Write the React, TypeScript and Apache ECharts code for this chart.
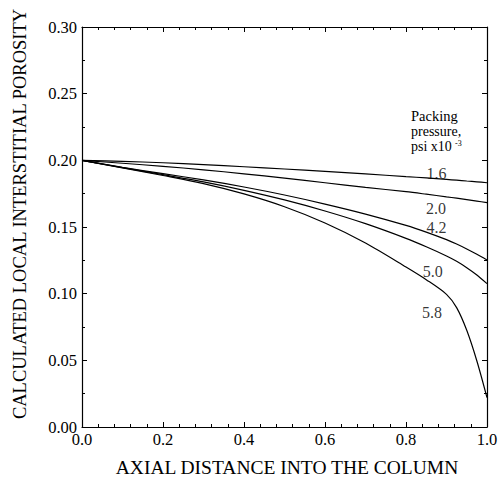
import React, { useEffect, useRef } from "react";
import * as echarts from "echarts";

const xPositions = [0, 0.1, 0.2, 0.3, 0.4, 0.5, 0.6, 0.7, 0.8, 0.85, 0.9, 0.925, 0.95, 0.975, 1.0];
const p16 = [0.2, 0.1992, 0.1982, 0.1968, 0.1952, 0.1935, 0.1917, 0.1898, 0.1878, 0.1868, 0.1857, 0.1851, 0.1845, 0.1839, 0.1832];
const p20 = [0.2, 0.1978, 0.1955, 0.1929, 0.1899, 0.1866, 0.1832, 0.1797, 0.1765, 0.1746, 0.1726, 0.1716, 0.1705, 0.1694, 0.1683];
const p42 = [0.2, 0.1947, 0.19, 0.1853, 0.18, 0.174, 0.1672, 0.1597, 0.1512, 0.1462, 0.1405, 0.1372, 0.1335, 0.1295, 0.1252];
const p50 = [0.2, 0.1945, 0.1893, 0.1838, 0.1775, 0.1703, 0.162, 0.1525, 0.1415, 0.1352, 0.1283, 0.1243, 0.1195, 0.114, 0.1075];
const p58 = [0.2, 0.1943, 0.1886, 0.1825, 0.1748, 0.1652, 0.153, 0.138, 0.12, 0.1105, 0.0995, 0.0895, 0.0725, 0.0495, 0.022];

const seriesNames = ["1.6", "2.0", "4.2", "5.0", "5.8"];
const seriesValues = [p16, p20, p42, p50, p58];
// label anchor points (data coords)
const labelX = [0.875, 0.874, 0.875, 0.866, 0.864];
const labelY = [0.1905, 0.1638, 0.1495, 0.1168, 0.0858];

const xTicks = { min: 0, max: 1, interval: 0.2 };
const yTicks = { min: 0, max: 0.3, interval: 0.05 };

const FONT = "Liberation Serif";

export default function App() {
  const ref = useRef<HTMLDivElement>(null);
  useEffect(() => {
    if (!ref.current) return;
    const chart = echarts.init(ref.current, null, { renderer: "svg" });
    const axisCommon = {
      axisLine: { show: true, onZero: false, lineStyle: { color: "#000", width: 1.2 } },
      axisTick: { show: true, inside: true, length: 5, lineStyle: { color: "#000" } },
      minorTick: { show: true, length: 3, lineStyle: { color: "#000" } },
      splitLine: { show: false },
    };
    const lines: any[] = seriesValues.map((vals, i) => ({
      type: "line",
      name: seriesNames[i],
      data: vals.map((v, j) => [xPositions[j], v]),
      smooth: 0.3,
      showSymbol: false,
      lineStyle: { color: "#000", width: 1.2 },
      itemStyle: { color: "#000" },
      xAxisIndex: 0,
      yAxisIndex: 0,
      z: 3,
    }));
    lines.push({
      type: "scatter",
      data: seriesNames.map((n, i) => [labelX[i], labelY[i], n]),
      symbolSize: 0,
      itemStyle: { color: "#000" },
      label: {
        show: true,
        position: "inside",
        formatter: (p: any) => p.data[2],
        color: "#000",
        textBorderWidth: 0,
        fontFamily: FONT,
        fontSize: 16,
      },
      silent: true,
    });
    chart.setOption({
      animation: false,
      grid: { left: 82, right: 15, top: 27, bottom: 52 },
      xAxis: [
        {
          type: "value",
          ...xTicks,
          position: "bottom",
          minorTick: { ...axisCommon.minorTick, splitNumber: 5 },
          axisLine: axisCommon.axisLine,
          axisTick: axisCommon.axisTick,
          splitLine: axisCommon.splitLine,
          axisLabel: {
            color: "#000",
            fontFamily: FONT,
            fontSize: 16.5,
            margin: 4,
            formatter: (v: number) => v.toFixed(1),
          },
        },
        {
          type: "value",
          ...xTicks,
          position: "top",
          minorTick: { ...axisCommon.minorTick, splitNumber: 5 },
          axisLine: axisCommon.axisLine,
          axisTick: axisCommon.axisTick,
          splitLine: axisCommon.splitLine,
          axisLabel: { show: false },
        },
      ],
      yAxis: [
        {
          type: "value",
          ...yTicks,
          position: "left",
          minorTick: { ...axisCommon.minorTick, splitNumber: 2 },
          axisLine: axisCommon.axisLine,
          axisTick: axisCommon.axisTick,
          splitLine: axisCommon.splitLine,
          axisLabel: {
            color: "#000",
            fontFamily: FONT,
            fontSize: 16.5,
            margin: 5,
            formatter: (v: number) => v.toFixed(2),
          },
        },
        {
          type: "value",
          ...yTicks,
          position: "right",
          minorTick: { ...axisCommon.minorTick, splitNumber: 2 },
          axisLine: axisCommon.axisLine,
          axisTick: axisCommon.axisTick,
          splitLine: axisCommon.splitLine,
          axisLabel: { show: false },
        },
      ],
      graphic: [
        {
          type: "text",
          x: 20,
          y: 214,
          rotation: Math.PI / 2,
          style: {
            text: "CALCULATED LOCAL INTERSTITIAL POROSITY",
            fontFamily: FONT,
            fontSize: 18.5,
            fill: "#000",
            align: "center",
            verticalAlign: "middle",
          },
        },
        {
          type: "text",
          x: 287,
          y: 467,
          style: {
            text: "AXIAL DISTANCE INTO THE COLUMN",
            fontFamily: FONT,
            fontSize: 19.5,
            fill: "#000",
            align: "center",
            verticalAlign: "middle",
          },
        },
        {
          type: "text",
          x: 411,
          y: 116,
          style: { text: "Packing", fontFamily: FONT, fontSize: 14.5, fill: "#000", align: "left", verticalAlign: "middle" },
        },
        {
          type: "text",
          x: 411,
          y: 131,
          style: { text: "pressure,", fontFamily: FONT, fontSize: 14, fill: "#000", align: "left", verticalAlign: "middle" },
        },
        {
          type: "text",
          x: 411,
          y: 146,
          style: { text: "psi x10", fontFamily: FONT, fontSize: 14, fill: "#000", align: "left", verticalAlign: "middle" },
        },
        {
          type: "text",
          x: 455,
          y: 143,
          style: { text: "-3", fontFamily: FONT, fontSize: 8, fill: "#000", align: "left", verticalAlign: "middle" },
        },
      ],
      series: lines,
    });
    return () => chart.dispose();
  }, []);
  return (
    <div
      ref={ref}
      style={{ position: "absolute", left: 0, top: 0, width: 502, height: 479, background: "#fff" }}
    />
  );
}
